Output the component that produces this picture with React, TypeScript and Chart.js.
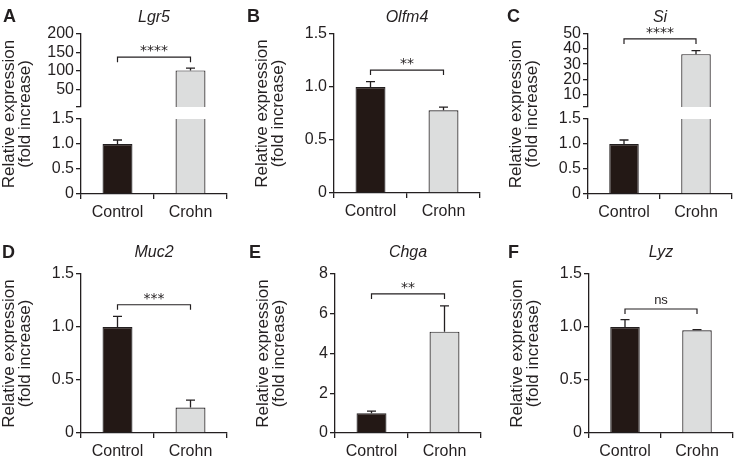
import React, { useEffect, useRef } from 'react';
import { Chart, registerables } from 'chart.js';

Chart.register(...registerables);

// ---------------- data ----------------
const categories = ['Control', 'Crohn'];
const panelLetters = ['A', 'B', 'C', 'D', 'E', 'F'];
const geneNames = ['Lgr5', 'Olfm4', 'Si', 'Muc2', 'Chga', 'Lyz'];
const yTitleLines = ['Relative expression', '(fold increase)'];

const lgr5Mean = [1.0, 101];
const lgr5Sem = [0.08, 6];
const olfm4Mean = [1.0, 0.78];
const olfm4Sem = [0.05, 0.03];
const siMean = [1.0, 36.6];
const siSem = [0.08, 2.3];
const muc2Mean = [1.0, 0.24];
const muc2Sem = [0.1, 0.07];
const chgaMean = [1.0, 5.1];
const chgaSem = [0.1, 1.3];
const lyzMean = [1.0, 0.97];
const lyzSem = [0.07, 0.006];

const significance = ['****', '**', '****', '***', '**', 'ns'];
const bracketLevels = [137, 1.16, 46.7, 1.21, 7.0, 1.17];

const fineTicks = [0, 0.5, 1.0, 1.5];
const lgr5UpperTicks = [1.5, 50, 100, 150, 200];
const siUpperTicks = [1.5, 10, 20, 30, 40, 50];
const chgaTicks = [0, 2, 4, 6, 8];

// ---------------- styles ----------------
const INK = '#231f20';
const CONTROL_FILL = '#231815';
const CROHN_FILL = '#dcdddd';
const FONT = '"Liberation Sans", Arial, Helvetica, sans-serif';
const W = 245;
const H = 230;
const XH = 25;

interface Spec {
  key: string;
  left: number;
  top: number;
  axisX: number;
  axisRight: number;
  plotTop: number;
  plotBottom: number;
  mean: number[];
  sem: number[];
  ticks: number[];
  hideFirst?: boolean;
  showX: boolean;
  panel?: number;
  letterX?: number;
  letterY?: number;
  geneY?: number;
  titleCY?: number;
}

const specs: Spec[] = [
  { key: 'A-up', left: 0, top: 0, axisX: 81, axisRight: 227, plotTop: 34, plotBottom: 107, mean: lgr5Mean, sem: lgr5Sem, ticks: lgr5UpperTicks, hideFirst: true, showX: false, panel: 0, letterX: 3, letterY: 22, geneY: 22, titleCY: 114 },
  { key: 'A-low', left: 0, top: 0, axisX: 81, axisRight: 227, plotTop: 119, plotBottom: 194, mean: lgr5Mean, sem: lgr5Sem, ticks: fineTicks, showX: true },
  { key: 'B', left: 245, top: 0, axisX: 334, axisRight: 480, plotTop: 34, plotBottom: 193, mean: olfm4Mean, sem: olfm4Sem, ticks: fineTicks, showX: true, panel: 1, letterX: 247, letterY: 22, geneY: 22, titleCY: 113.5 },
  { key: 'C-up', left: 490, top: 0, axisX: 588, axisRight: 732, plotTop: 34, plotBottom: 107, mean: siMean, sem: siSem, ticks: siUpperTicks, hideFirst: true, showX: false, panel: 2, letterX: 507, letterY: 22, geneY: 22, titleCY: 114 },
  { key: 'C-low', left: 490, top: 0, axisX: 588, axisRight: 732, plotTop: 119, plotBottom: 194, mean: siMean, sem: siSem, ticks: fineTicks, showX: true },
  { key: 'D', left: 0, top: 229, axisX: 81, axisRight: 227, plotTop: 274, plotBottom: 433, mean: muc2Mean, sem: muc2Sem, ticks: fineTicks, showX: true, panel: 3, letterX: 2, letterY: 258, geneY: 257, titleCY: 353.5 },
  { key: 'E', left: 245, top: 229, axisX: 335, axisRight: 481, plotTop: 274, plotBottom: 433, mean: chgaMean, sem: chgaSem, ticks: chgaTicks, showX: true, panel: 4, letterX: 249, letterY: 258, geneY: 257, titleCY: 353.5 },
  { key: 'F', left: 490, top: 229, axisX: 589, axisRight: 733, plotTop: 274, plotBottom: 433, mean: lyzMean, sem: lyzSem, ticks: fineTicks, showX: true, panel: 5, letterX: 508, letterY: 258, geneY: 257, titleCY: 353.5 },
];

function fmtTick(v: number, ticks: number[]): string {
  if (ticks === fineTicks) return v === 0 ? '0' : v.toFixed(1);
  return String(v);
}

function makeChart(canvas: HTMLCanvasElement, s: Spec): Chart {
  const errorBars = {
    id: 'errorBars',
    afterDatasetsDraw(chart: any) {
      const ctx = chart.ctx as CanvasRenderingContext2D;
      const ca = chart.chartArea;
      const ys = chart.scales.y;
      const meta = chart.getDatasetMeta(0);
      ctx.save();
      ctx.beginPath();
      ctx.rect(ca.left, ca.top - 1, ca.right - ca.left, ca.bottom - ca.top + 1);
      ctx.clip();
      ctx.strokeStyle = INK;
      ctx.lineWidth = 1.3;
      meta.data.forEach((bar: any, i: number) => {
        const top = s.mean[i] + s.sem[i];
        if (top <= ys.min) return; // whole error bar lies below a broken axis segment
        const x = bar.x;
        const y0 = ys.getPixelForValue(s.mean[i]);
        const y1 = ys.getPixelForValue(top);
        ctx.beginPath();
        ctx.moveTo(x, y0);
        ctx.lineTo(x, y1);
        ctx.moveTo(x - 4.5, y1);
        ctx.lineTo(x + 4.5, y1);
        ctx.stroke();
      });
      ctx.restore();
    },
  };

  const decor = {
    id: 'decor',
    afterDraw(chart: any) {
      if (s.panel === undefined) return;
      const p = s.panel;
      const ctx = chart.ctx as CanvasRenderingContext2D;
      const ca = chart.chartArea;
      const ys = chart.scales.y;
      const meta = chart.getDatasetMeta(0);
      ctx.save();
      ctx.fillStyle = INK;
      ctx.strokeStyle = INK;
      // panel letter
      ctx.font = `bold 18px ${FONT}`;
      ctx.textAlign = 'left';
      ctx.textBaseline = 'alphabetic';
      ctx.fillText(panelLetters[p], (s.letterX as number) - s.left, (s.letterY as number) - s.top);
      // gene name
      ctx.font = `italic 16px ${FONT}`;
      ctx.textAlign = 'center';
      ctx.fillText(geneNames[p], (ca.left + ca.right) / 2, (s.geneY as number) - s.top);
      // significance bracket
      const x1 = meta.data[0].x;
      const x2 = meta.data[1].x;
      const y = ys.getPixelForValue(bracketLevels[p]);
      ctx.lineWidth = 1.2;
      ctx.beginPath();
      ctx.moveTo(x1, y + 5);
      ctx.lineTo(x1, y);
      ctx.lineTo(x2, y);
      ctx.lineTo(x2, y + 5);
      ctx.stroke();
      const lab = significance[p];
      if (lab === 'ns') {
        ctx.font = `13px ${FONT}`;
        ctx.fillText(lab, (x1 + x2) / 2, y - 5);
      } else {
        ctx.font = `14px "DejaVu Sans", sans-serif`;
        ctx.fillText(lab, (x1 + x2) / 2, y - 2);
      }
      // y title
      ctx.font = `17px ${FONT}`;
      ctx.translate(s.axisX - s.left - 67, (s.titleCY as number) - s.top);
      ctx.rotate(-Math.PI / 2);
      ctx.textAlign = 'center';
      ctx.fillText(yTitleLines[0], 0, 0);
      ctx.fillText(yTitleLines[1], 0, 15.5);
      ctx.restore();
    },
  };

  const padBottom = s.showX ? H - XH - (s.plotBottom - s.top) : H - (s.plotBottom - s.top);
  const yMin = s.ticks[0];

  return new Chart(canvas, {
    type: 'bar',
    data: {
      labels: categories,
      datasets: [
        {
          data: s.mean,
          backgroundColor: [CONTROL_FILL, CROHN_FILL],
          borderColor: INK,
          borderWidth: (c: any) => (typeof c.raw === 'number' && c.raw < yMin ? 0 : 1.2),
          borderSkipped: 'start',
          inflateAmount: 0,
          clip: 0,
          barPercentage: 0.41,
          categoryPercentage: 1,
        } as any,
      ],
    },
    options: {
      responsive: false,
      animation: false,
      events: [],
      layout: {
        padding: {
          left: 0,
          top: s.plotTop - s.top,
          right: W - (s.axisRight - s.left),
          bottom: padBottom,
        },
      },
      plugins: {
        legend: { display: false },
        tooltip: { enabled: false },
        title: { display: false },
      },
      scales: {
        x: {
          display: s.showX,
          offset: true,
          grid: {
            offset: true,
            drawOnChartArea: false,
            drawTicks: true,
            tickLength: 5,
            color: INK,
            lineWidth: 1.3,
          },
          border: { display: true, color: INK, width: 1.3 },
          ticks: { color: INK, font: { family: FONT, size: 16 }, padding: 4, maxRotation: 0, autoSkip: false },
          afterFit: (sc: any) => {
            sc.height = s.showX ? XH : 0;
          },
        },
        y: {
          min: s.ticks[0],
          max: s.ticks[s.ticks.length - 1],
          afterBuildTicks: (sc: any) => {
            sc.ticks = s.ticks.map((v) => ({ value: v }));
          },
          grid: {
            drawOnChartArea: false,
            drawTicks: true,
            tickLength: 5,
            color: INK,
            lineWidth: 1.3,
          },
          border: { display: true, color: INK, width: 1.3 },
          ticks: {
            color: INK,
            font: { family: FONT, size: 16 },
            padding: 2,
            autoSkip: false,
            callback: (v: any, i: number) => (s.hideFirst && i === 0 ? '' : fmtTick(Number(v), s.ticks)),
          },
          afterFit: (sc: any) => {
            sc.width = s.axisX - s.left;
          },
        },
      },
    } as any,
    plugins: [errorBars, decor],
  });
}

export default function App() {
  const refs = useRef<(HTMLCanvasElement | null)[]>([]);
  useEffect(() => {
    const charts = specs.map((s, i) => makeChart(refs.current[i] as HTMLCanvasElement, s));
    return () => charts.forEach((c) => c.destroy());
  }, []);
  return (
    <div style={{ position: 'fixed', left: 0, top: 0, width: 735, height: 459, background: '#fff', overflow: 'hidden' }}>
      {specs.map((s, i) => (
        <canvas
          key={s.key}
          ref={(el) => {
            refs.current[i] = el;
          }}
          width={W}
          height={H}
          style={{ position: 'absolute', left: s.left, top: s.top, width: W, height: H }}
        />
      ))}
    </div>
  );
}
